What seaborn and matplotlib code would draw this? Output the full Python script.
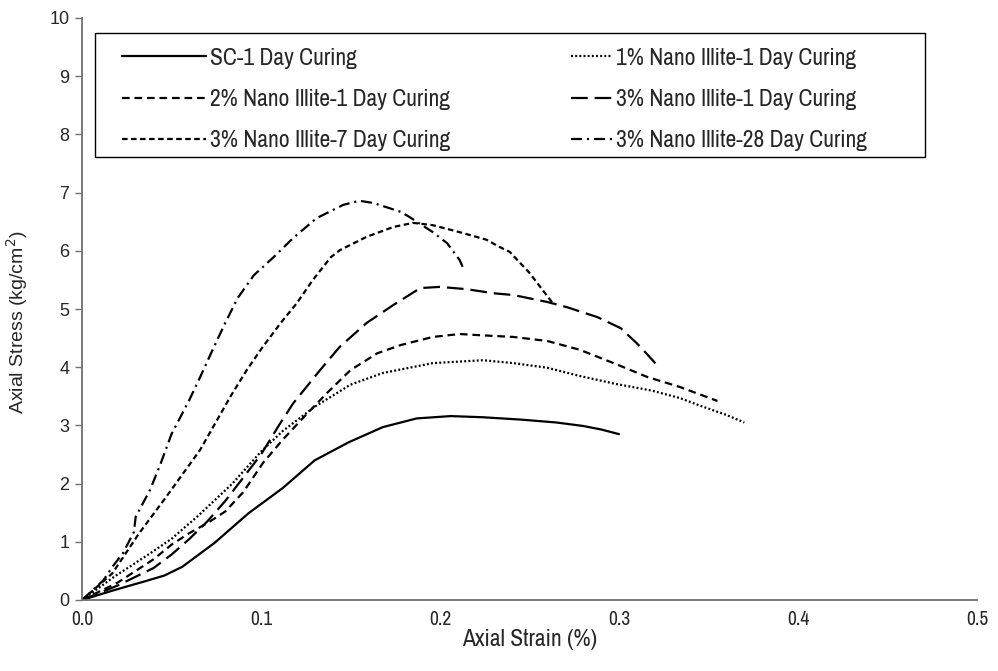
import matplotlib
matplotlib.use("Agg")
import matplotlib.pyplot as plt
from matplotlib import font_manager
from matplotlib.patches import Rectangle
from matplotlib.lines import Line2D
import seaborn as sns
import pandas as pd

# Stress-strain curves (axial strain in %, axial stress in kg/cm2)
sc1_strain = [0, 0.018, 0.035, 0.046, 0.056, 0.074, 0.093, 0.112, 0.130, 0.149, 0.168,
              0.187, 0.206, 0.224, 0.245, 0.265, 0.280, 0.290, 0.300]
sc1_stress = [0, 0.17, 0.32, 0.42, 0.57, 0.98, 1.49, 1.92, 2.40, 2.71, 2.97,
              3.12, 3.16, 3.14, 3.10, 3.05, 2.99, 2.93, 2.85]

ni1_strain = [0, 0.018, 0.037, 0.050, 0.065, 0.084, 0.100, 0.112, 0.130, 0.150, 0.168,
              0.196, 0.224, 0.241, 0.260, 0.278, 0.297, 0.318, 0.334, 0.347, 0.360, 0.370]
ni1_stress = [0, 0.40, 0.78, 1.05, 1.45, 2.00, 2.55, 2.90, 3.32, 3.70, 3.90,
              4.07, 4.12, 4.07, 3.99, 3.85, 3.72, 3.60, 3.47, 3.32, 3.18, 3.05]

ni2_strain = [0, 0.020, 0.040, 0.050, 0.060, 0.070, 0.080, 0.090, 0.101, 0.112, 0.126,
              0.137, 0.150, 0.165, 0.178, 0.196, 0.211, 0.222, 0.241, 0.260, 0.278,
              0.297, 0.316, 0.334, 0.355]
ni2_stress = [0, 0.30, 0.70, 0.95, 1.15, 1.32, 1.52, 1.85, 2.35, 2.75, 3.21,
              3.56, 3.95, 4.24, 4.38, 4.52, 4.57, 4.55, 4.52, 4.45, 4.30,
              4.07, 3.83, 3.66, 3.42]

ni3_strain = [0, 0.020, 0.040, 0.050, 0.060, 0.070, 0.080, 0.090, 0.100, 0.110, 0.118,
              0.133, 0.144, 0.159, 0.174, 0.189, 0.200, 0.215, 0.230, 0.241, 0.260,
              0.271, 0.288, 0.301, 0.310, 0.317, 0.322]
ni3_stress = [0, 0.25, 0.55, 0.78, 1.05, 1.35, 1.70, 2.10, 2.50, 3.00, 3.38,
              3.95, 4.35, 4.76, 5.07, 5.36, 5.38, 5.34, 5.27, 5.24, 5.12,
              5.03, 4.86, 4.67, 4.41, 4.18, 4.01]

ni3_7_strain = [0, 0.017, 0.032, 0.047, 0.066, 0.083, 0.092, 0.101, 0.111, 0.120, 0.129,
                0.139, 0.144, 0.159, 0.174, 0.185, 0.196, 0.211, 0.226, 0.233, 0.239,
                0.250, 0.263]
ni3_7_stress = [0, 0.46, 1.15, 1.77, 2.58, 3.50, 3.95, 4.35, 4.76, 5.10, 5.50,
                5.89, 6.01, 6.24, 6.41, 6.48, 6.44, 6.32, 6.19, 6.07, 5.98,
                5.62, 5.10]

ni3_28_strain = [0, 0.012, 0.017, 0.023, 0.029, 0.030, 0.038, 0.044, 0.050, 0.060, 0.066,
                 0.073, 0.080, 0.087, 0.096, 0.107, 0.118, 0.131, 0.146, 0.155, 0.163,
                 0.178, 0.183, 0.196, 0.204, 0.211, 0.213]
ni3_28_stress = [0, 0.34, 0.57, 0.81, 1.17, 1.43, 1.89, 2.35, 2.85, 3.44, 3.83,
                 4.30, 4.76, 5.19, 5.58, 5.89, 6.22, 6.56, 6.79, 6.86, 6.82,
                 6.67, 6.58, 6.32, 6.13, 5.84, 5.70]

series_names = ["SC-1 Day Curing",
                "1% Nano Illite-1 Day Curing",
                "2% Nano Illite-1 Day Curing",
                "3% Nano Illite-1 Day Curing",
                "3% Nano Illite-7 Day Curing",
                "3% Nano Illite-28 Day Curing"]
series_data = [(sc1_strain, sc1_stress), (ni1_strain, ni1_stress),
               (ni2_strain, ni2_stress), (ni3_strain, ni3_stress),
               (ni3_7_strain, ni3_7_stress), (ni3_28_strain, ni3_28_stress)]

x_ticks = [0.0, 0.1, 0.2, 0.3, 0.4, 0.5]
y_ticks = list(range(0, 11))

# line styles, dash lengths in points
styles = ["-",
          (0, (1.4, 1.6)),
          (0, (5.5, 3.5)),
          (0, (12, 5)),
          (0, (4, 2.5)),
          (0, (8, 3.5, 1.5, 3.5))]

sns.set_theme(style="white")
plt.rcParams["font.family"] = ["Liberation Sans", "DejaVu Sans"]
plt.rcParams["lines.scale_dashes"] = False

# condensed face for the legend and the strain axis
installed = {f.name for f in font_manager.fontManager.ttflist}
narrow_face = next((n for n in ["Liberation Sans Narrow", "Arial Narrow", "Archivo Narrow",
                                "PT Sans Narrow", "Roboto Condensed"] if n in installed),
                   "Liberation Sans")
narrow = [narrow_face, "DejaVu Sans"]

fig = plt.figure(figsize=(9.98, 6.71), dpi=100)
ax = fig.add_axes([82 / 998, 1 - 600 / 671, 895 / 998, 582 / 671])

handles = []
for name, (xs, ys), ls in zip(series_names, series_data, styles):
    df = pd.DataFrame({"strain": xs, "stress": ys})
    sns.lineplot(data=df, x="strain", y="stress", ax=ax, color="black",
                 linewidth=1.6, linestyle=ls, sort=False, estimator=None,
                 legend=False, dash_capstyle="butt")
    handles.append(Line2D([], [], color="black", linewidth=1.6, linestyle=ls,
                          dash_capstyle="butt", label=name))

ax.set_xlim(0, 0.5)
ax.set_ylim(0, 10)
ax.set_xticks(x_ticks)
ax.set_xticklabels([f"{t:.1f}" for t in x_ticks])
ax.set_yticks(y_ticks)

for side in ["top", "right"]:
    ax.spines[side].set_visible(False)
for side in ["left", "bottom"]:
    ax.spines[side].set_color("#707070")
    ax.spines[side].set_linewidth(1.3)

ax.tick_params(axis="x", direction="inout", length=8, width=1, color="#707070",
               labelsize=14, pad=3)
ax.tick_params(axis="y", direction="out", length=5, width=1, color="#707070",
               labelsize=13, pad=4, left=True)
for lab in ax.get_xticklabels():
    lab.set_family(narrow)

ax.set_xlabel("Axial Strain (%)", fontsize=17, family=narrow, labelpad=0)
ax.set_ylabel("Axial Stress (kg/cm$^2$)", fontsize=14)
ax.yaxis.set_label_coords(-0.058, 0.478)
ax.grid(False)

# legend: two columns in one frame
leg_kw = dict(loc="upper left", frameon=False, prop={"family": narrow, "size": 17},
              borderpad=0, borderaxespad=0, labelspacing=0.86, handleheight=0.7)
leg1 = ax.legend(handles=handles[0::2], bbox_to_anchor=(0.045, 0.949),
                 handlelength=3.55, handletextpad=0.17, **leg_kw)
ax.add_artist(leg1)
leg2 = ax.legend(handles=handles[1::2], bbox_to_anchor=(0.546, 0.949),
                 handlelength=1.75, handletextpad=0.17, **leg_kw)
ax.add_patch(Rectangle((0.0145, 0.761), 0.9275, 0.213, transform=ax.transAxes,
                       fill=False, edgecolor="black", linewidth=1.0, zorder=5))

fig.savefig("out.png", dpi=100)
